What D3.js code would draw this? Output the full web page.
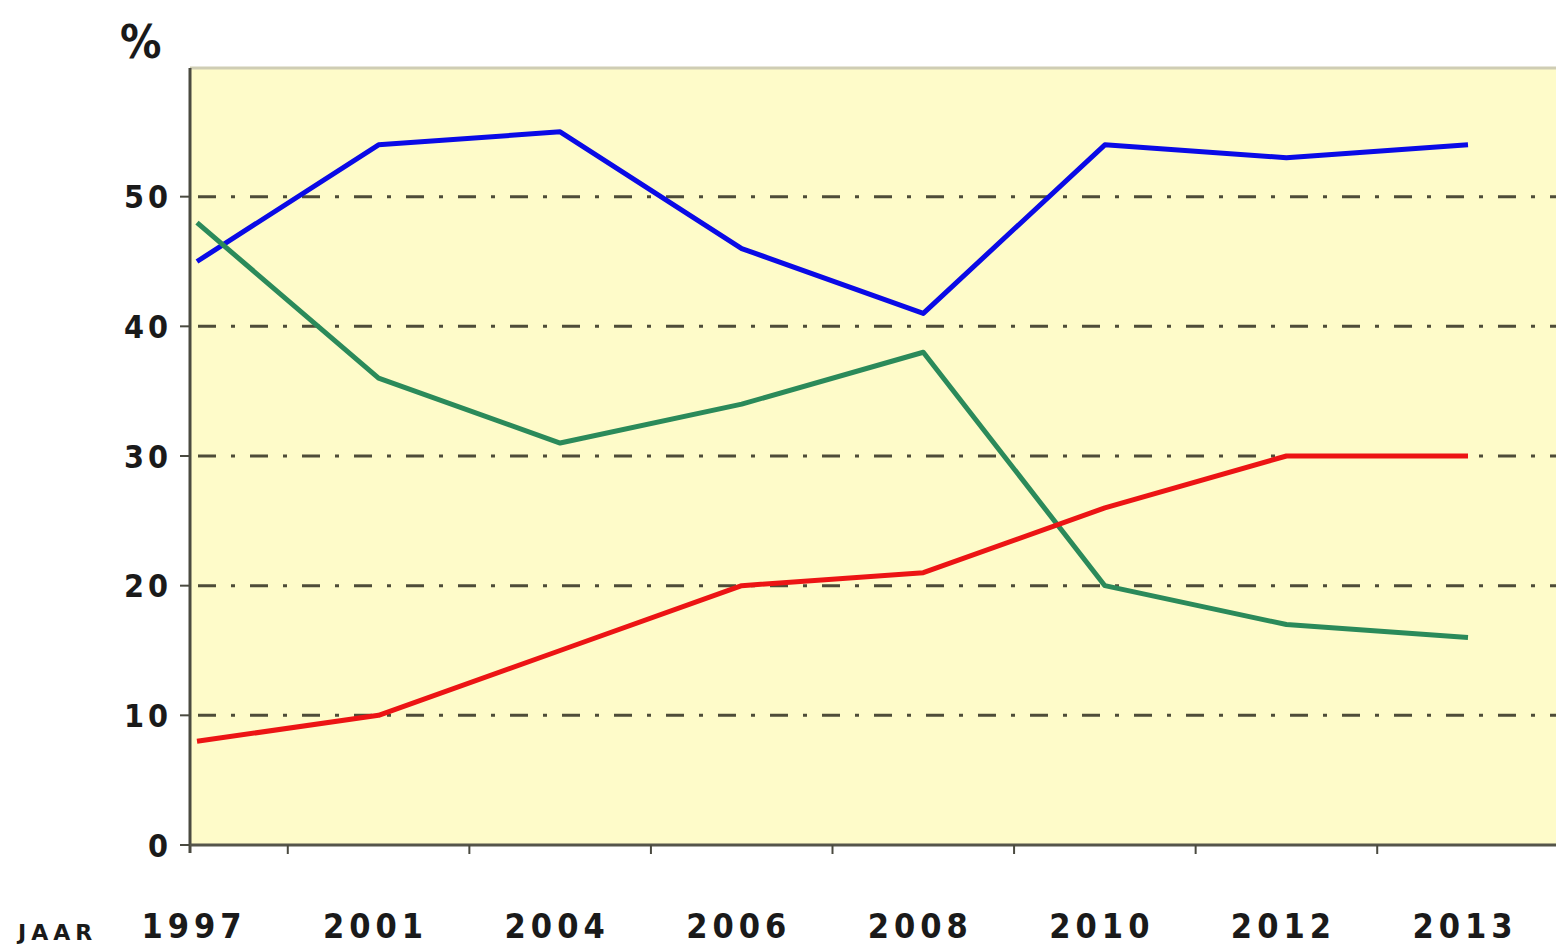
<!DOCTYPE html>
<html>
<head>
<meta charset="utf-8">
<script src="https://cdn.jsdelivr.net/npm/d3@7"></script>
<style>
  body { margin: 0; background: #ffffff; overflow: hidden; }
  text { font-family: "DejaVu Sans Condensed", "DejaVu Sans", sans-serif; font-weight: bold; fill: #1a1a1a; }
</style>
</head>
<body>
<div id="chart"></div>
<script>
let width_chart = 1556;
let height_chart = 946;

// data
const years = ["1997", "2001", "2004", "2006", "2008", "2010", "2012", "2013"];
const blueValues  = [45, 54, 55, 46, 41, 54, 53, 54];
const greenValues = [48, 36, 31, 34, 38, 20, 17, 16];
const redValues   = [8, 10, 15, 20, 21, 26, 30, 30];
const yTicks = [0, 10, 20, 30, 40, 50];

const series = [
  { name: "blauw", values: blueValues,  color: "#0a0ae6" },
  { name: "groen", values: greenValues, color: "#2b8a5a" },
  { name: "rood",  values: redValues,   color: "#ec1414" }
];

const plotLeft = 190, plotTop = 68, plotBottom = 845, plotRight = 1580;

let svg = d3.select('#chart').append('svg')
    .attr('width', width_chart)
    .attr('height', height_chart);

var x = d3.scalePoint().domain(years).range([197, 1468]);
var y = d3.scaleLinear().domain([0, 60]).range([plotBottom, 67]);

// achtergrond plot
svg.append("rect")
    .attr("x", plotLeft)
    .attr("y", plotTop)
    .attr("width", plotRight - plotLeft)
    .attr("height", plotBottom - plotTop)
    .attr("fill", "#fefbc9");

svg.append("line")
    .attr("x1", plotLeft).attr("x2", plotRight)
    .attr("y1", plotTop).attr("y2", plotTop)
    .attr("stroke", "#cfcdb4")
    .attr("stroke-width", 3);

// rasterlijnen
svg.selectAll(".grid")
    .data(yTicks.filter(d => d > 0))
    .enter().append("line")
    .attr("class", "grid")
    .attr("x1", plotLeft + 8).attr("x2", plotRight)
    .attr("y1", d => y(d)).attr("y2", d => y(d))
    .attr("stroke", "#4e4c38")
    .attr("stroke-width", 3)
    .attr("stroke-dasharray", "18,15,4,15");

// lijnen
var line = d3.line()
    .x(function(d, i) { return x(years[i]); })
    .y(function(d) { return y(d); });

svg.selectAll(".serie")
    .data(series)
    .enter().append("path")
    .attr("class", "serie")
    .attr("d", d => line(d.values))
    .attr("fill", "none")
    .attr("stroke", d => d.color)
    .attr("stroke-width", 5)
    .attr("stroke-linejoin", "round");

// assen
svg.append("line")
    .attr("x1", plotLeft).attr("x2", plotLeft)
    .attr("y1", plotTop).attr("y2", plotBottom + 8)
    .attr("stroke", "#4a4a40").attr("stroke-width", 3);

svg.append("line")
    .attr("x1", plotLeft).attr("x2", plotRight)
    .attr("y1", plotBottom).attr("y2", plotBottom)
    .attr("stroke", "#55554a").attr("stroke-width", 3);

// y ticks
svg.selectAll(".ytick")
    .data(yTicks)
    .enter().append("line")
    .attr("x1", plotLeft - 10).attr("x2", plotLeft)
    .attr("y1", d => y(d)).attr("y2", d => y(d))
    .attr("stroke", "#4a4a40").attr("stroke-width", 2);

svg.selectAll(".ylabel")
    .data(yTicks)
    .enter().append("text")
    .attr("x", 172)
    .attr("y", d => y(d))
    .attr("dy", "0.36em")
    .attr("text-anchor", "end")
    .style("font-size", "32px")
    .style("letter-spacing", "4px")
    .text(d => d);

// x ticks tussen de punten
var step = x.step();
var xTicks = years.slice(0, -1).map(d => x(d) + step / 2);
svg.selectAll(".xtick")
    .data(xTicks)
    .enter().append("line")
    .attr("x1", d => d).attr("x2", d => d)
    .attr("y1", plotBottom).attr("y2", plotBottom + 9)
    .attr("stroke", "#4a4a40").attr("stroke-width", 2);

svg.selectAll(".xlabel")
    .data(years)
    .enter().append("text")
    .attr("x", d => x(d) - 3)
    .attr("y", 938)
    .attr("text-anchor", "middle")
    .style("font-size", "34px")
    .style("letter-spacing", "5px")
    .text(d => d);

svg.append("text")
    .attr("x", 18)
    .attr("y", 940)
    .style("font-family", "'DejaVu Sans', sans-serif")
    .style("font-size", "22px")
    .style("letter-spacing", "5px")
    .text("JAAR");

svg.append("text")
    .attr("x", 120)
    .attr("y", 58)
    .style("font-size", "46px")
    .text("%");
</script>
</body>
</html>
